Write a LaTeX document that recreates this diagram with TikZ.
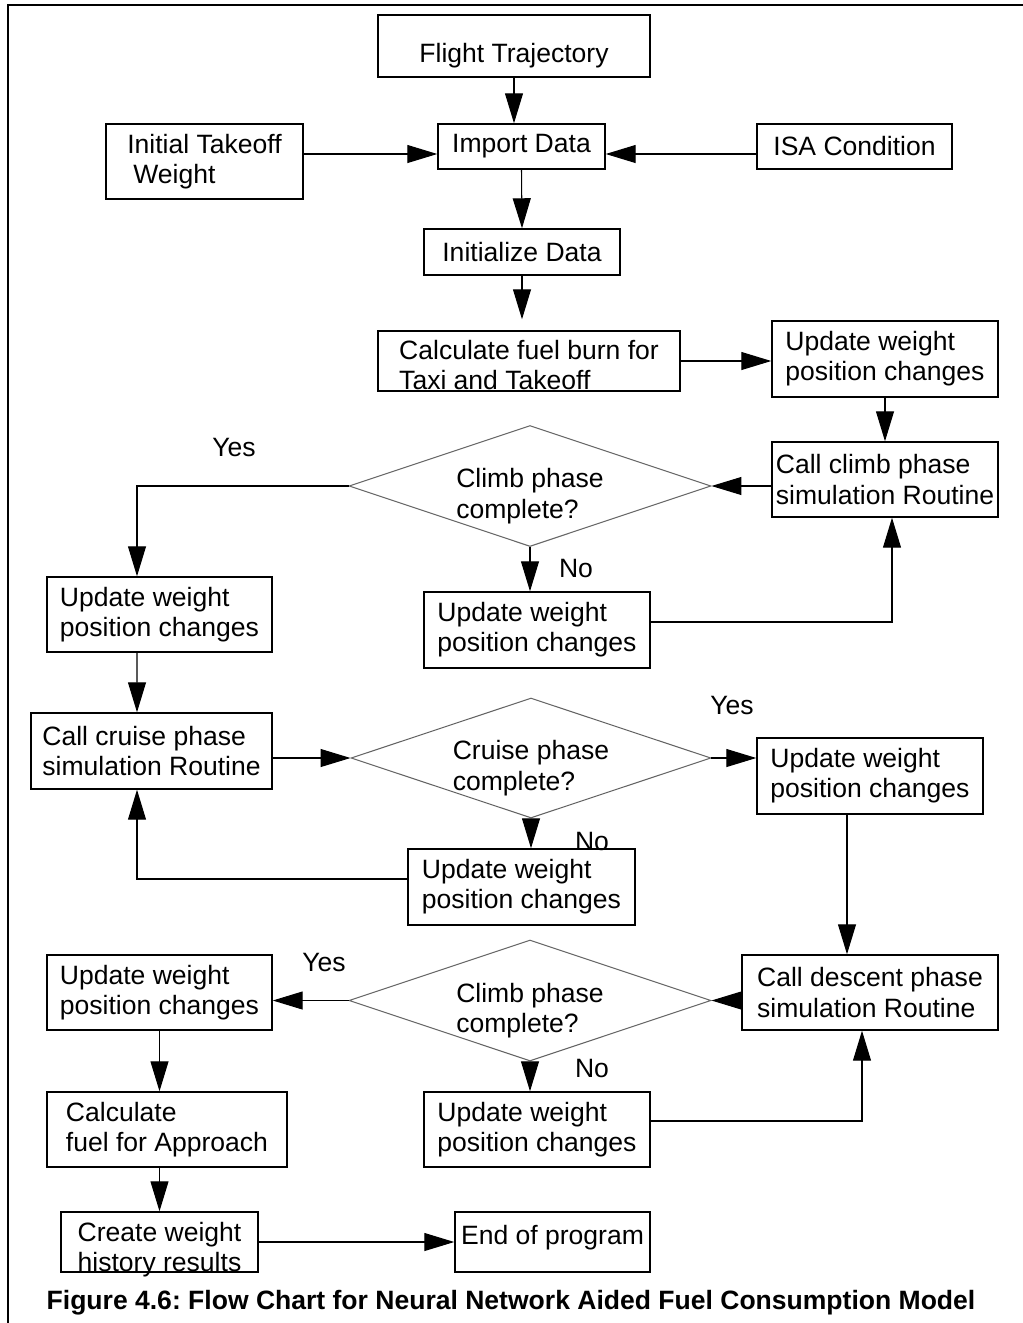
\documentclass[tikz,border=0pt]{standalone}
\usepackage{fontspec}
\setmainfont{Liberation Sans}
\usetikzlibrary{arrows.meta,shapes.geometric}
\newcommand{\chartfont}{\fontsize{15.1pt}{17.1pt}\selectfont}

\begin{document}
\begin{tikzpicture}[
    x=0.02cm, y=-0.02cm,
    >={Triangle[length=0.6cm, width=0.36cm]},
    box/.style 2 args={draw, line width=0.85pt, inner sep=0pt, align=left,
                minimum width=#1, minimum height=#2, font=\chartfont},
    cond/.style={draw=black!60, line width=0.6pt, diamond, shape aspect=3,
                 inner sep=0pt, minimum width=7.24cm, minimum height=2.42cm,
                 align=left, font=\chartfont, text height=1.28cm, text depth=0pt},
    lowered/.style={text height=#1, text depth=0pt},
    lbl/.style={font=\chartfont},
    arr/.style={->, line width=0.6pt},
]
\useasboundingbox (0,0) rectangle (1023,1323);

% --- Frame ---
\draw[line width=1.1pt] (8,1323) -- (8,5) -- (1023,5);

% --- Input stage ---
\node[box={5.44cm}{1.24cm}, lowered=0.66cm] (traj) at (514,46) {Flight Trajectory};
\node[box={3.34cm}{0.9cm}] (import) at (521.5,146.5) {Import Data};
\node[box={3.94cm}{1.5cm}] (initw) at (204.5,161.5) {Initial Takeoff\\\hspace*{0.12cm}Weight};
\node[box={3.9cm}{0.9cm}] (isa) at (854.5,146.5) {ISA Condition};
\node[box={3.92cm}{0.92cm}] (init) at (522,252) {Initialize Data};
\node[box={6.04cm}{1.2cm}, lowered=1.14cm] (taxi) at (529,361) {Calculate fuel burn for\\Taxi and Takeoff};
\node[box={4.52cm}{1.52cm}] (upd0) at (885,359) {Update weight\\position changes};

% --- Climb ---
\node[box={4.52cm}{1.5cm}] (climb) at (885,479.5) {Call climb phase\\simulation Routine};
\node[cond] (dclimb) at (530,486) {Climb phase\\complete?};
\node[box={4.5cm}{1.5cm}] (upd1L) at (159.5,614.5) {Update weight\\position changes};
\node[box={4.52cm}{1.52cm}] (upd1M) at (537,630) {Update weight\\position changes};
\node[lbl] (yes1) at (234,447) {Yes};
\node[lbl] (no1) at (576,568) {No};

% --- Cruise ---
\node[box={4.82cm}{1.52cm}] (cruise) at (151.5,751) {Call cruise phase\\simulation Routine};
\node[cond, minimum width=7.2cm, minimum height=2.4cm] (dcruise) at (531,758) {Cruise phase\\complete?};
\node[box={4.52cm}{1.52cm}] (upd2R) at (870,776) {Update weight\\position changes};
\node[box={4.54cm}{1.52cm}] (upd2M) at (521.5,887) {Update weight\\position changes};
\node[lbl] (yes2) at (732,705) {Yes};
\node[lbl] (no2) at (592,841) {No};

% --- Descent ---
\node[box={5.12cm}{1.5cm}] (descent) at (870,992.5) {Call descent phase\\simulation Routine};
\node[cond] (ddesc) at (530,1000.5) {Climb phase\\complete?};
\node[box={4.5cm}{1.5cm}] (upd3L) at (159.5,992.5) {Update weight\\position changes};
\node[box={4.52cm}{1.5cm}] (upd3M) at (537,1129.5) {Update weight\\position changes};
\node[lbl] (yes3) at (324,962) {Yes};
\node[lbl] (no3) at (592,1068) {No};

% --- Approach and end ---
\node[box={4.8cm}{1.5cm}] (approach) at (167,1129.5) {Calculate\\fuel for Approach};
\node[box={3.94cm}{1.2cm}, lowered=1.18cm] (create) at (159.5,1242) {Create weight\\history results};
\node[box={3.9cm}{1.2cm}, lowered=0.1cm] (endp) at (552.5,1242) {End of program};

\node[font=\chartfont\bfseries] (caption) at (511,1303)
    {Figure 4.6:\ Flow Chart for Neural Network Aided Fuel Consumption Model};

% --- Arrows ---
\coordinate (imin) at ([yshift=-0.15cm]import.west);
\coordinate (imout) at ([yshift=-0.15cm]import.east);
\draw[arr] (traj.south) -- (traj.south |- import.north);
\draw[arr] (initw.east |- imin) -- (imin);
\draw[arr] (isa.west |- imout) -- (imout);
\draw[arr] (import.south) -- (init.north);
\draw[arr, shorten >=0.22cm] (init.south) -- (init.south |- taxi.north);
\draw[arr] (taxi.east) -- (taxi.east -| upd0.west);
\draw[arr] (upd0.south) -- (climb.north);

\draw[arr] (climb.west |- dclimb) -- (dclimb.east);
\draw[arr] (dclimb.west) -| ([xshift=-0.45cm]upd1L.north);
\draw[arr] (dclimb.south) -- (dclimb.south |- upd1M.north);
\draw[arr] ([yshift=0.16cm]upd1M.east) -| ([xshift=0.14cm]climb.south);
\draw[arr] ([xshift=-0.45cm]upd1L.south) -- ([xshift=-0.29cm]cruise.north);

\draw[arr] (cruise.east |- dcruise) -- (dcruise.west);
\draw[arr] (dcruise.east) -- (dcruise.east -| upd2R.west);
\draw[arr] (dcruise.south) -- (dcruise.south |- upd2M.north);
\draw[arr] ([yshift=0.16cm]upd2M.west) -| ([xshift=-0.29cm]cruise.south);
\draw[arr] ([xshift=-0.46cm]upd2R.south) -- ([xshift=-0.46cm]descent.north);

\draw[arr] (descent.west |- ddesc) -- (ddesc.east);
\draw[arr] (ddesc.west) -- (ddesc.west -| upd3L.east);
\draw[arr] (ddesc.south) -- (ddesc.south |- upd3M.north);
\draw[arr] ([yshift=0.17cm]upd3M.east) -| ([xshift=-0.16cm]descent.south);
\draw[arr] (upd3L.south) -- (upd3L.south |- approach.north);
\draw[arr] (create.north |- approach.south) -- (create.north);
\draw[arr] (create.east) -- (endp.west);

\end{tikzpicture}
\end{document}
